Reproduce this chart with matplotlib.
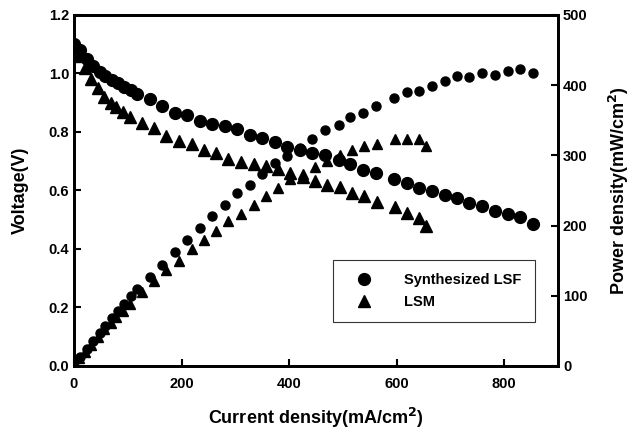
import matplotlib
matplotlib.use('Agg')
import matplotlib.pyplot as plt

plt.rcParams['font.family'] = ['Liberation Sans', 'DejaVu Sans']
plt.rcParams['font.weight'] = 'bold'

# Synthesized LSF
lsf_i = [0, 11, 24, 36, 48, 58, 70, 81, 93, 106,
         117, 141, 164, 188, 211, 234, 257, 281, 304, 327,
         350, 374, 397, 420, 443, 467, 492, 514, 537, 562,
         595, 619, 642, 665, 689, 712, 735, 758, 783, 807,
         830, 853]
lsf_v = [1.10, 1.08, 1.05, 1.025, 1.005, 0.99, 0.978, 0.966, 0.955, 0.944,
         0.93, 0.912, 0.889, 0.866, 0.858, 0.839, 0.827, 0.82, 0.81, 0.79,
         0.778, 0.767, 0.75, 0.738, 0.727, 0.721, 0.704, 0.69, 0.67, 0.661,
         0.638, 0.627, 0.607, 0.597, 0.585, 0.575, 0.558, 0.547, 0.53, 0.518,
         0.51, 0.487]
lsf_p = [0, 13, 24, 36, 47, 57, 68, 79, 89, 99,
         109, 127, 144, 162, 180, 196, 213, 229, 246, 258,
         273, 289, 299, 310, 323, 336, 343, 355, 360, 370,
         382, 390, 392, 399, 406, 413, 411, 418, 414, 420,
         423, 418]

# LSM
lsm_i = [0, 10, 20, 31, 44, 56, 68, 79, 91, 104,
         126, 149, 172, 195, 219, 242, 264, 287, 310, 334,
         357, 379, 402, 425, 448, 470, 494, 517, 540, 563,
         597, 620, 642, 655]
lsm_v = [1.10, 1.06, 1.02, 0.98, 0.95, 0.92, 0.90, 0.884, 0.868, 0.85,
         0.832, 0.812, 0.787, 0.769, 0.759, 0.739, 0.729, 0.708, 0.698, 0.691,
         0.683, 0.673, 0.660, 0.646, 0.632, 0.620, 0.612, 0.592, 0.580, 0.562,
         0.545, 0.523, 0.505, 0.479]
lsm_p = [0, 11, 20, 30, 42, 52, 61, 70, 79, 89,
         106, 121, 137, 150, 167, 179, 193, 206, 217, 230,
         242, 254, 266, 274, 284, 292, 301, 307, 313, 316,
         323, 324, 323, 314]

fig = plt.figure(figsize=(6.32, 4.37), dpi=100)
ax = fig.add_axes([0.117, 0.1625, 0.766, 0.8032])
ax2 = ax.twinx()

h1, = ax.plot(lsf_i, lsf_v, 'o', color='black', ms=8.5, label='Synthesized LSF')
h2, = ax.plot(lsm_i, lsm_v, '^', color='black', ms=8, label='LSM')
ax2.plot(lsf_i, lsf_p, 'o', color='black', ms=6.5)
ax2.plot(lsm_i, lsm_p, '^', color='black', ms=6.5)

ax.set_xlim(0, 900)
ax.set_ylim(0, 1.2)
ax2.set_ylim(0, 500)
ax.set_xticks([0, 200, 400, 600, 800])
ax.set_yticks([0.0, 0.2, 0.4, 0.6, 0.8, 1.0, 1.2])
ax.set_yticklabels(['0.0', '0.2', '0.4', '0.6', '0.8', '1.0', '1.2'])
ax2.set_yticks([0, 100, 200, 300, 400, 500])

for a in (ax, ax2):
    for s in a.spines.values():
        s.set_linewidth(2)
    a.tick_params(direction='in', length=5, width=1.5, labelsize=10.5)
ax.tick_params(axis='x', pad=8)

ax.set_xlabel('Current density(mA/cm$^\\mathbf{2}$)', fontsize=13, fontweight='bold', labelpad=11)
ax.set_ylabel('Voltage(V)', fontsize=13, fontweight='bold', labelpad=14)
ax2.set_ylabel('Power density(mW/cm$^\\mathbf{2}$)', fontsize=13, fontweight='bold', labelpad=14)

leg = ax2.legend([h1, h2], ['Synthesized LSF', 'LSM'], loc='upper right',
                 bbox_to_anchor=(0.952, 0.302), borderaxespad=0, fancybox=False,
                 edgecolor='black', fontsize=10.5, handletextpad=1.5, borderpad=0.9,
                 labelspacing=0.55, handlelength=2.5)
leg.get_frame().set_linewidth(0.8)

fig.savefig('out.png', dpi=100)
